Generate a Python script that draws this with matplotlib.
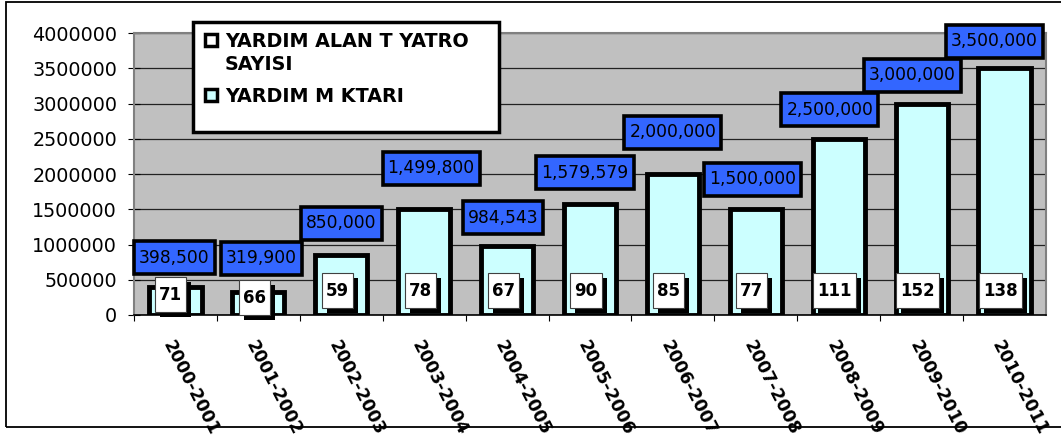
import matplotlib
matplotlib.use("Agg")
import matplotlib.pyplot as plt
import matplotlib.patheffects as pe
import numpy as np
from matplotlib.patches import Rectangle
from matplotlib.path import Path

years = ["2000-2001", "2001-2002", "2002-2003", "2003-2004", "2004-2005", "2005-2006",
         "2006-2007", "2007-2008", "2008-2009", "2009-2010", "2010-2011"]
patients = [71, 66, 59, 78, 67, 90, 85, 77, 111, 152, 138]
money = [398500, 319900, 850000, 1499800, 984543, 1579579,
         2000000, 1500000, 2500000, 3000000, 3500000]
legend_labels = ["YARDIM ALAN T YATRO\nSAYISI", "YARDIM M KTARI"]

W, H = 1061, 441
BLUE = "#3366FF"
CYAN = "#CCFFFF"
GRAY = "#C0C0C0"

# label nudges in pixels (box centre relative to bar centre / bar top)
money_nudge = [(-1, 29), (3, 34), (0, 32), (7, 41), (-4, 28), (-5, 31),
               (0, 42), (-3, 30), (-9, 29), (-9, 28), (-10, 27)]
count_nudge = [(-5, 20), (-4, 17), (-4, 24), (-4, 24), (-4, 24), (-4, 24),
               (-4, 24), (-4, 24), (-4, 24), (-4, 24), (-4, 24)]


def padded(padx, pady):
    # square box with separate horizontal / vertical padding (pixels)
    def box(x0, y0, width, height, mutation_size):
        x1, y1 = x0 + width + padx, y0 + height + pady
        x0, y0 = x0 - padx, y0 - pady
        return Path([(x0, y0), (x1, y0), (x1, y1), (x0, y1), (x0, y0)], closed=True)
    return box


fig = plt.figure(figsize=(W / 100, H / 100), dpi=100)
ax = fig.add_axes([134 / W, 1 - 315 / H, (1046 - 134) / W, (315 - 33) / H])

x = np.arange(len(years))
ax.bar(x, money, width=0.63, color=CYAN, edgecolor="black", linewidth=3.5, zorder=3)

ax.set_xlim(-0.5, len(years) - 0.5)
ax.set_ylim(0, 4000000)
ax.set_facecolor(GRAY)
yt = np.arange(0, 4000001, 500000)
ax.set_yticks(yt)
ax.set_yticklabels([str(v) for v in yt], fontsize=13.8)
ax.yaxis.grid(True, color="#222222", linewidth=0.9)
ax.set_axisbelow(True)

ax.set_xticks(x - 0.5, minor=False)
ax.set_xticks(x, minor=True)
ax.set_xticklabels([])
ax.set_xticklabels(years, minor=True, fontsize=12.4, fontweight="bold")
ax.tick_params(axis="x", which="major", direction="out", length=4.5, width=0.8)
ax.tick_params(axis="x", which="minor", length=0, pad=16.6, labelrotation=-63)
for lab in ax.get_xticklabels(minor=True):
    lab.set_rotation_mode("anchor")
    lab.set_ha("left")
    lab.set_va("top")
ax.tick_params(axis="y", direction="inout", length=8, width=0.8, pad=8.2)

for side in ["top", "right", "left"]:
    ax.spines[side].set_color("#808080")
    ax.spines[side].set_linewidth(1.5)
ax.spines["bottom"].set_color("black")
ax.spines["bottom"].set_linewidth(1.2)

shadow = [pe.SimplePatchShadow(offset=(3.6, -3.6), shadow_rgbFace="black", alpha=1.0),
          pe.Normal()]

for i in range(len(years)):
    dx, dy = money_nudge[i]
    ax.annotate(f"{money[i]:,}", xy=(x[i], money[i]), xytext=(dx, dy),
                textcoords="offset pixels", ha="center", va="center",
                fontsize=12.3, color="black", zorder=6, annotation_clip=False,
                bbox=dict(boxstyle=padded(5, 7.5), fc=BLUE, ec="black", lw=2.6))
    cx, cy = count_nudge[i]
    t = ax.annotate(str(patients[i]), xy=(x[i], patients[i]), xytext=(cx, cy),
                    textcoords="offset pixels", ha="center", va="center",
                    fontsize=12, fontweight="bold", color="black", zorder=5,
                    bbox=dict(boxstyle=padded(4, 8.5), fc="white", ec="#404040", lw=0.8))
    t.get_bbox_patch().set_path_effects(shadow)

# outer chart frame
fig.add_artist(Rectangle((6 / W, 1 - 427 / H), 1.0, (427 - 2) / H,
                         transform=fig.transFigure, fill=False, ec="black", lw=1.3))

# legend drawn by hand
fig.add_artist(Rectangle((193 / W, 1 - 132 / H), (499 - 193) / W, (132 - 22) / H,
                         transform=fig.transFigure, fc="white", ec="black", lw=2.5, zorder=10))
marker_faces = ["white", CYAN]
marker_y = [40, 95]
baselines = [[47, 70], [102]]
for j, lab in enumerate(legend_labels):
    fig.add_artist(Rectangle((205 / W, 1 - (marker_y[j] + 6) / H), 12 / W, 12 / H,
                             transform=fig.transFigure, fc=marker_faces[j], ec="black",
                             lw=2.5, zorder=11))
    for line, by in zip(lab.split("\n"), baselines[j]):
        fig.text(225 / W, 1 - by / H, line, fontsize=13.8, fontweight="bold",
                 va="baseline", ha="left", zorder=12)

fig.savefig("out.png", dpi=100)
